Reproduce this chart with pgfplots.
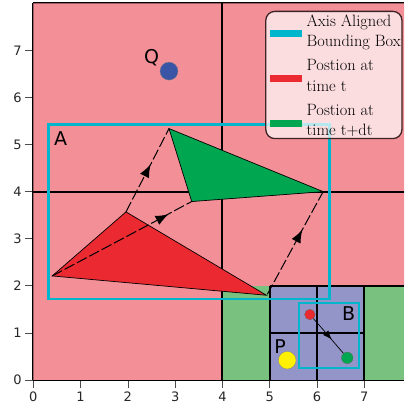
\documentclass[border=0pt]{standalone}
\usepackage{pgfplots}
\pgfplotsset{compat=1.18}
\usepackage{fontspec}
\newfontfamily\dejavu{DejaVu Sans}
\usetikzlibrary{arrows.meta}
\definecolor{pinkbg}{RGB}{242,143,151}
\definecolor{greenbg}{RGB}{120,193,126}
\definecolor{purplebg}{RGB}{147,149,201}
\definecolor{redtri}{RGB}{234,42,48}
\definecolor{greentri}{RGB}{0,166,80}
\definecolor{bluedot}{RGB}{58,85,165}
\definecolor{yellowdot}{RGB}{255,241,0}
\definecolor{cyanbox}{RGB}{0,181,204}
\definecolor{legborder}{RGB}{60,35,38}
\tikzset{
  dashpath/.style={black, line width=1pt, dash pattern=on 11pt off 3pt},
  tip/.style={-{Latex[length=13pt,width=10pt]}},
}
\newcommand{\legbar}[1]{\textcolor{#1}{\rule[-0.4pt]{32.5pt}{6.7pt}}}
\begin{document}
\begin{tikzpicture}
\begin{axis}[
  name=ax,
  scale only axis,
  width=370.7pt, height=376.7pt,
  xmin=0, xmax=7.84, ymin=0, ymax=8,
  axis x line=box, axis y line=left,
  x axis line style={-}, y axis line style={-},
  axis line style={line width=2pt, black},
  xtick={0,1,...,7}, ytick={0,1,...,7},
  xtick pos=bottom, ytick pos=left,
  tick align=outside,
  major tick length=8pt,
  tick style={line width=0.7pt, black!70},
  /pgf/number format/assume math mode=true,
  tick label style={font=\dejavu\fontsize{13}{15}\selectfont, text=black!85},
  clip=false,
]
% background regions
\addplot[fill=pinkbg, draw=none] coordinates {(0,0) (4,0) (4,2) (7.84,2) (7.84,8) (0,8)} -- cycle;
\addplot[fill=greenbg, draw=none] coordinates {(4,0) (5,0) (5,2) (4,2)} -- cycle;
\addplot[fill=greenbg, draw=none] coordinates {(7,0) (7.84,0) (7.84,2) (7,2)} -- cycle;
\addplot[fill=purplebg, draw=none] coordinates {(5,0) (7,0) (7,2) (5,2)} -- cycle;
% grid lines
\addplot[black, line width=2pt] coordinates {(4,0) (4,8)};
\addplot[black, line width=2pt] coordinates {(0,4) (7.84,4)};
\addplot[black, line width=2pt] coordinates {(5,2) (7.84,2)};
\addplot[black, line width=2pt] coordinates {(5,0) (5,2)};
\addplot[black, line width=2pt] coordinates {(6,0) (6,2)};
\addplot[black, line width=2pt] coordinates {(7,0) (7,2)};
\addplot[black, line width=2pt] coordinates {(5,1) (7,1)};
% bounding boxes
\addplot[cyanbox, line width=2.4pt] coordinates {(0.32,1.72) (6.26,1.72) (6.26,5.43) (0.32,5.43)} -- cycle;
\addplot[cyanbox, line width=2.4pt] coordinates {(5.62,0.26) (6.89,0.26) (6.89,1.63) (5.62,1.63)} -- cycle;
% triangles
\addplot[fill=redtri, draw=black, line width=0.7pt] coordinates {(0.40,2.21) (1.96,3.57) (4.93,1.80)} -- cycle;
\addplot[fill=greentri, draw=black, line width=0.7pt] coordinates {(2.87,5.34) (3.35,3.79) (6.13,4.00)} -- cycle;
% motion paths (split at the arrow heads)
\addplot[dashpath, tip] coordinates {(1.96,3.57) (2.48,4.58)};
\addplot[dashpath] coordinates {(2.40,4.42) (2.87,5.34)};
\addplot[dashpath, tip] coordinates {(0.40,2.21) (2.86,3.52)};
\addplot[dashpath, smooth] coordinates {(2.72,3.45) (3.05,3.63) (3.35,3.79)};
\addplot[dashpath, tip] coordinates {(4.95,1.82) (5.69,3.19)};
\addplot[dashpath] coordinates {(5.60,3.03) (6.13,4.00)};
\addplot[black, line width=0.7pt, -{Latex[length=9pt,width=7pt]}] coordinates {(5.85,1.39) (6.31,0.86)};
\addplot[black, line width=0.7pt] coordinates {(6.24,0.94) (6.64,0.47)};
% dots
\addplot[only marks, mark=*, mark size=5.3pt, mark options={fill=redtri, draw=black!60, line width=0.3pt}] coordinates {(5.85,1.39)};
\addplot[only marks, mark=*, mark size=5.8pt, mark options={fill=greentri, draw=black!60, line width=0.3pt}] coordinates {(6.64,0.47)};
\addplot[only marks, mark=*, mark size=8.8pt, mark options={fill=yellowdot, draw=black!50, line width=0.3pt}] coordinates {(5.37,0.42)};
\addplot[only marks, mark=*, mark size=9pt, mark options={fill=bluedot, draw=black!50, line width=0.3pt}] coordinates {(2.87,6.56)};
% labels
\node[font=\dejavu\fontsize{19}{22}\selectfont] at (axis cs:2.50,6.84) {Q};
\node[font=\dejavu\fontsize{19}{22}\selectfont] at (axis cs:0.58,5.13) {A};
\node[font=\dejavu\fontsize{19}{22}\selectfont] at (axis cs:6.67,1.41) {B};
\node[font=\dejavu\fontsize{19}{22}\selectfont] at (axis cs:5.22,0.70) {P};
% legend
\node[anchor=north east, draw=legborder, line width=1.3pt, fill=white, fill opacity=0.7, text opacity=1,
      rounded corners=9pt, inner xsep=1.2pt, inner ysep=0.5pt]
  at (axis cs:7.81,7.842)
  {\fontsize{16.4}{20.3}\selectfont
   \raisebox{0pt}[\height][\dimexpr\depth-4pt\relax]{%
   \begin{tabular}{@{\hspace{2.8pt}}c@{\hspace{4.3pt}}l@{}}
   \legbar{cyanbox} & \begin{tabular}{@{}l@{}}Axis Aligned\\Bounding Box\end{tabular}\\ \noalign{\vskip4.2pt}
   \legbar{redtri} & \begin{tabular}{@{}l@{}}Postion at\\time t\end{tabular}\\ \noalign{\vskip4.2pt}
   \legbar{greentri} & \begin{tabular}{@{}l@{}}Postion at\\time t+dt\end{tabular}
   \end{tabular}}};
\end{axis}
\pgfresetboundingbox
\useasboundingbox ([shift={(-33.3pt,-29pt)}]ax.south west) rectangle ([shift={(0pt,3.3pt)}]ax.north east);
\end{tikzpicture}
\end{document}
